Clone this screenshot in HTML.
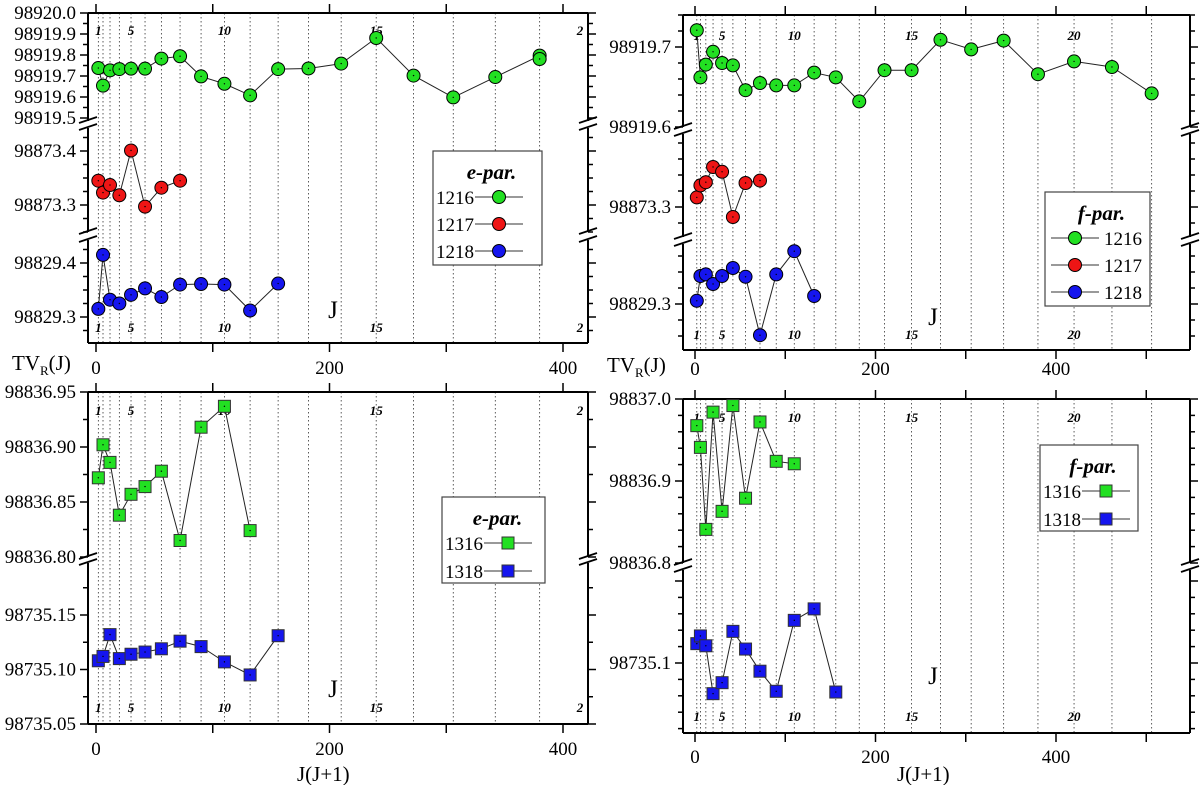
<!DOCTYPE html>
<html><head><meta charset="utf-8"><style>
html,body{margin:0;padding:0;background:#fff;}
svg{display:block;}
svg text{font-family:"Liberation Serif","Times New Roman",serif;}
</style></head><body>
<svg id="chart" width="1200" height="785" viewBox="0 0 1200 785" xmlns="http://www.w3.org/2000/svg" font-family="Liberation Serif, serif"></svg>
<script>
// ---------- DATA ----------
const jjTL = [2,6,12,20,30,42,56,72,90,110,132,156,182,210,240,272,306,342,380,380];
const e1216 = [98919.738,98919.654,98919.727,98919.733,98919.735,98919.735,98919.783,98919.794,98919.698,98919.663,98919.608,98919.733,98919.736,98919.759,98919.881,98919.702,98919.598,98919.695,98919.797,98919.781];
const jjE1217 = [2,6,12,20,30,42,56,72];
const e1217 = [98873.345,98873.323,98873.337,98873.318,98873.401,98873.297,98873.332,98873.345];
const jjE1218 = [2,6,12,20,30,42,56,72,90,110,132,156];
const e1218 = [98829.315,98829.415,98829.332,98829.325,98829.341,98829.353,98829.337,98829.360,98829.361,98829.360,98829.312,98829.362];

const jjF1216 = [2,6,12,20,30,42,56,72,90,110,132,156,182,210,240,272,306,342,380,420,462,506];
const f1216 = [98919.721,98919.662,98919.678,98919.694,98919.680,98919.677,98919.646,98919.655,98919.652,98919.652,98919.668,98919.662,98919.632,98919.671,98919.671,98919.709,98919.697,98919.708,98919.666,98919.682,98919.675,98919.642];
const jjF1217 = [2,6,12,20,30,42,56,72];
const f1217 = [98873.312,98873.327,98873.331,98873.350,98873.344,98873.2875,98873.330,98873.333];
const jjF1218 = [2,6,12,20,30,42,56,72,90,110,132];
const f1218 = [98829.304,98829.335,98829.337,98829.325,98829.335,98829.345,98829.334,98829.261,98829.337,98829.366,98829.310];

const jjE1316 = [2,6,12,20,30,42,56,72,90,110,132];
const e1316 = [98836.872,98836.902,98836.886,98836.838,98836.857,98836.864,98836.878,98836.815,98836.918,98836.937,98836.824];
const jjE1318 = [2,6,12,20,30,42,56,72,90,110,132,156];
const e1318 = [98735.108,98735.112,98735.132,98735.110,98735.114,98735.116,98735.119,98735.126,98735.121,98735.107,98735.095,98735.131];

const jjF1316 = [2,6,12,20,30,42,56,72,90,110];
const f1316 = [98836.9675,98836.941,98836.841,98836.984,98836.863,98836.992,98836.879,98836.972,98836.924,98836.921];
const jjF1318 = [2,6,12,20,30,42,56,72,90,110,132,156];
const f1318 = [98735.1236,98735.133,98735.121,98735.0626,98735.076,98735.1386,98735.117,98735.090,98735.0655,98735.152,98735.166,98735.0646];

const xTickLabels = [0,200,400];
const jLabelList = [1,5,10,15,20];

// ---------- RENDER ----------
const svg = document.getElementById('chart');
const NS = 'http://www.w3.org/2000/svg';
function mk(tag, attrs, parent){
  const el = document.createElementNS(NS, tag);
  for (const k in attrs) el.setAttribute(k, attrs[k]);
  if (tag==='text') el.setAttribute('font-family','Liberation Serif, serif');
  (parent||svg).appendChild(el);
  return el;
}
const GREEN='#22e022', RED='#ee1515', BLUE='#1515ee';

function panel(cfg){
  const g = mk('g',{});
  
  
  const X = v => cfg.x0 + v*cfg.xs;
  const L=cfg.left, R=cfg.right, T=cfg.top, B=cfg.bottom;
  for (let J=1; J<=cfg.maxJ; J++){
    const gx = X(J*(J+1));
    const ln = mk('line',{x1:gx,y1:T,x2:gx,y2:B,stroke:'#333','stroke-width':0.8,'stroke-dasharray':'1.5,2.5'},g);
    
    
  }
  jLabelList.forEach(J=>{
    if (J>cfg.maxJ+1) return;
    let gx = X(J*(J+1)); let txt = String(J);
    if (gx > R-8){ gx = R-8; txt = String(J).charAt(0); }
    [cfg.jTop, cfg.jBot].forEach(yy=>{
      const t = mk('text',{x:gx,y:yy,'text-anchor':'middle','font-size':13,'font-style':'italic','font-weight':'bold'},g);
      t.textContent = txt;
      
      
    });
  });
  mk('line',{x1:L,y1:T,x2:R,y2:T,stroke:'#000','stroke-width':2},g);
  mk('line',{x1:L,y1:B,x2:R,y2:B,stroke:'#000','stroke-width':2},g);
  for (let v=0; X(v)<=R; v+=100){
    mk('line',{x1:X(v),y1:T,x2:X(v),y2:T-9,stroke:'#000','stroke-width':1.5},g);
    mk('line',{x1:X(v),y1:B,x2:X(v),y2:B+9,stroke:'#000','stroke-width':1.5},g);
  }
  xTickLabels.forEach(v=>{
    const t = mk('text',{x:X(v),y:cfg.xLabY,'text-anchor':'middle','font-size':19},g);
    t.textContent = v;
    
    
  });
  cfg.segs.forEach((s,si)=>{
    const Y = v => s.y0 - (v - s.v0)*s.ppu;
    mk('line',{x1:L,y1:s.yt,x2:L,y2:s.yb,stroke:'#000','stroke-width':2},g);
    mk('line',{x1:R,y1:s.yt,x2:R,y2:s.yb,stroke:'#000','stroke-width':2},g);
    const kmin = Math.ceil(((s.y0-s.yb)/s.ppu)/s.minor - 1e-6);
    const kmax = Math.floor(((s.y0-s.yt)/s.ppu)/s.minor + 1e-6);
    for (let k=kmin; k<=kmax; k++){
      const v = s.v0 + k*s.minor; const yy = Y(v);
      const major = Math.abs(Math.round(k*s.minor/s.major)*s.major - k*s.minor) < 1e-7;
      const len = major?8:5;
      mk('line',{x1:L,y1:yy,x2:L-len,y2:yy,stroke:'#000','stroke-width':1.5},g);
      mk('line',{x1:R,y1:yy,x2:R+len,y2:yy,stroke:'#000','stroke-width':1.5},g);
      const minY = (si===0) ? s.yt-1 : s.yt+16;
      if (major && yy>=minY && yy<=s.yb+1){
        const t = mk('text',{x:L-12,y:yy+6,'text-anchor':'end','font-size':19},g);
        t.textContent = v.toFixed(s.dec);
        
        
      }
    }
    if (si < cfg.segs.length-1){
      const nb = cfg.segs[si+1].yt;
      [L,R].forEach(ax=>{
        mk('line',{x1:ax-9,y1:s.yb+2,x2:ax+9,y2:s.yb-4,stroke:'#000','stroke-width':1.8},g);
        mk('line',{x1:ax-9,y1:nb+2,x2:ax+9,y2:nb-4,stroke:'#000','stroke-width':1.8},g);
      });
    }
    s.Y = Y;
  });
  cfg.series.forEach(sr=>{
    const s = cfg.segs[sr.seg];
    const pts = sr.x.map((xv,i)=>[X(xv), s.Y(sr.y[i])]);
    const pl = mk('polyline',{points:pts.map(p=>p.join(',')).join(' '),fill:'none',stroke:'#222','stroke-width':1},g);
    
    
    pts.forEach(p=>{
      let m;
      if (sr.shape==='c') m = mk('circle',{cx:p[0],cy:p[1],r:6.5,fill:sr.color,stroke:'#000','stroke-width':1},g);
      else m = mk('rect',{x:p[0]-6,y:p[1]-6,width:12,height:12,fill:sr.color,stroke:'#333','stroke-width':1},g);
      
      
      mk('circle',{cx:p[0],cy:p[1],r:0.7,fill:'#000'},g);
    });
  });
  const lg = cfg.legend;
  const lgG = mk('g',{},g);
  
  
  mk('rect',{x:lg.x,y:lg.y,width:lg.w,height:lg.h,fill:'#fff',stroke:'#444','stroke-width':1.2},lgG);
  const tt = mk('text',{x:lg.x+lg.w/2+4,y:lg.y+28,'text-anchor':'middle','font-size':21,'font-style':'italic','font-weight':'bold'},lgG);
  tt.textContent = lg.title;
  cfg.series.forEach((sr,i)=>{
    const yy = lg.y + 46 + i*lg.dy;
    const ent = mk('g',{},lgG);
    
    
    let lx0, tx, anchor;
    if (lg.labelFirst){ tx = lg.x+3; anchor='start'; lx0 = lg.x+42; }
    else { lx0 = lg.x+6; tx = lg.x+lg.w-8; anchor='end'; }
    mk('line',{x1:lx0,y1:yy,x2:lx0+48,y2:yy,stroke:'#333','stroke-width':1},ent);
    const cx = lx0+24;
    if (sr.shape==='c') mk('circle',{cx:cx,cy:yy,r:6.5,fill:sr.color,stroke:'#000','stroke-width':1},ent);
    else mk('rect',{x:cx-6,y:yy-6,width:12,height:12,fill:sr.color,stroke:'#333','stroke-width':1},ent);
    const t = mk('text',{x:tx,y:yy+7,'text-anchor':anchor,'font-size':19},ent);
    t.textContent = sr.label;
  });
  const jt = mk('text',{x:cfg.jx,y:cfg.jy,'text-anchor':'middle','font-size':25},g);
  jt.textContent='J';
  
  
}

panel({name:'panel-e-par-12xx',left:88,right:588,top:13,bottom:343,x0:96,xs:1.1675,maxJ:19,jTop:35,jBot:332,xLabY:374,jx:333,jy:318,
  segs:[{v0:98919.5,y0:118,ppu:210,yt:13,yb:121,major:0.1,minor:0.05,dec:1},
        {v0:98873.3,y0:205,ppu:540,yt:128,yb:232,major:0.1,minor:0.025,dec:1},
        {v0:98829.3,y0:317,ppu:540,yt:240,yb:343,major:0.1,minor:0.025,dec:1}],
  series:[{name:'e-1216',label:'1216',x:jjTL,y:e1216,seg:0,color:GREEN,shape:'c'},
          {name:'e-1217',label:'1217',x:jjE1217,y:e1217,seg:1,color:RED,shape:'c'},
          {name:'e-1218',label:'1218',x:jjE1218,y:e1218,seg:2,color:BLUE,shape:'c'}],
  legend:{x:433,y:151,w:109,h:114,title:'e-par.',labelFirst:true,dy:27}});

panel({name:'panel-f-par-12xx',left:683,right:1190,top:15,bottom:350,x0:695,xs:0.9025,maxJ:22,jTop:40,jBot:339,xLabY:375,jx:933,jy:325,
  segs:[{v0:98919.6,y0:127,ppu:800,yt:15,yb:127,major:0.1,minor:0.02,dec:1},
        {v0:98873.3,y0:207,ppu:800,yt:134,yb:237,major:0.1,minor:0.02,dec:1},
        {v0:98829.3,y0:304,ppu:800,yt:244,yb:350,major:0.1,minor:0.02,dec:1}],
  series:[{name:'f-1216',label:'1216',x:jjF1216,y:f1216,seg:0,color:GREEN,shape:'c'},
          {name:'f-1217',label:'1217',x:jjF1217,y:f1217,seg:1,color:RED,shape:'c'},
          {name:'f-1218',label:'1218',x:jjF1218,y:f1218,seg:2,color:BLUE,shape:'c'}],
  legend:{x:1045,y:192,w:105,h:114,title:'f-par.',labelFirst:false,dy:27}});

panel({name:'panel-e-par-13xx',left:88,right:588,top:392,bottom:724,x0:96,xs:1.1675,maxJ:19,jTop:415,jBot:712,xLabY:755,jx:333,jy:697,
  segs:[{v0:98836.80,y0:557,ppu:1100,yt:392,yb:557,major:0.05,minor:0.025,dec:2},
        {v0:98735.05,y0:724,ppu:1090,yt:563,yb:724,major:0.05,minor:0.025,dec:2}],
  series:[{name:'e-1316',label:'1316',x:jjE1316,y:e1316,seg:0,color:GREEN,shape:'s'},
          {name:'e-1318',label:'1318',x:jjE1318,y:e1318,seg:1,color:BLUE,shape:'s'}],
  legend:{x:442,y:497,w:103,h:86,title:'e-par.',labelFirst:true,dy:28}});

panel({name:'panel-f-par-13xx',left:683,right:1190,top:399,bottom:733,x0:695,xs:0.9025,maxJ:22,jTop:422,jBot:721,xLabY:763,jx:933,jy:684,
  segs:[{v0:98836.8,y0:563,ppu:820,yt:399,yb:563,major:0.1,minor:0.02,dec:1},
        {v0:98735.1,y0:663,ppu:820,yt:570,yb:733,major:0.1,minor:0.02,dec:1}],
  series:[{name:'f-1316',label:'1316',x:jjF1316,y:f1316,seg:0,color:GREEN,shape:'s'},
          {name:'f-1318',label:'1318',x:jjF1318,y:f1318,seg:1,color:BLUE,shape:'s'}],
  legend:{x:1040,y:445,w:98,h:86,title:'f-par.',labelFirst:true,dy:28}});

function title(x,y,html,name){
  const t = mk('text',{x:x,y:y,'font-size':21});
  t.innerHTML = html;
  
  
}
title(12,370,'TV<tspan font-size="13" dy="5">R</tspan><tspan dy="-5">(J)</tspan>','y-axis-title-left');
title(607,372,'TV<tspan font-size="13" dy="5">R</tspan><tspan dy="-5">(J)</tspan>','y-axis-title-right');
title(297,781,'J(J+1)','x-axis-title-left');
title(897,781,'J(J+1)','x-axis-title-right');
</script>
</body></html>
